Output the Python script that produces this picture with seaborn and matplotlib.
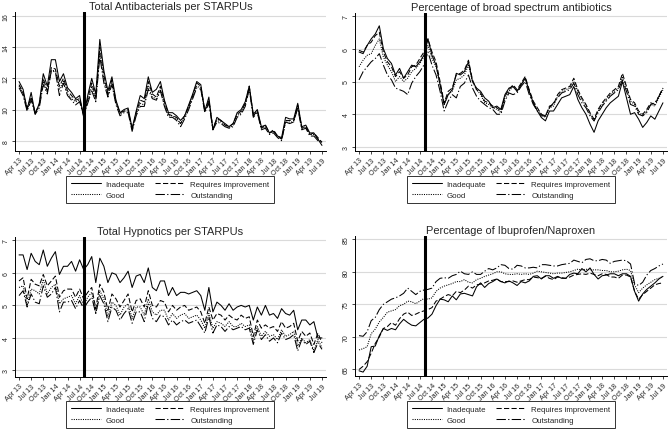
import numpy as np
import pandas as pd
import matplotlib
matplotlib.use("Agg")
import matplotlib.pyplot as plt
import seaborn as sns

# months Apr 2013 .. Jul 2019, indexed 0..75
months = list(range(76))
tick_pos = list(range(0, 76, 3))
tick_labels = ['Apr 13', 'Jul 13', 'Oct 13', 'Jan 14', 'Apr 14', 'Jul 14', 'Oct 14',
               'Jan 15', 'Apr 15', 'Jul 15', 'Oct 15', 'Jan 16', 'Apr 16', 'Jul 16',
               'Oct 16', 'Jan 17', 'Apr 17', 'Jul 17', 'Oct 17', 'Jan 18', 'Apr 18',
               'Jul 18', 'Oct 18', 'Jan 19', 'Apr 19', 'Jul 19']
ratings = ['Inadequate', 'Requires improvement', 'Good', 'Outstanding']
intervention = 16.2

# Total Antibacterials per STARPUs
abx_inad = [11.8, 11.3, 10.0, 11.1, 9.7, 10.4, 12.3, 11.5, 13.2, 13.2, 11.8, 12.3, 11.4, 11.1, 10.7, 10.9,
            9.5, 10.9, 12.0, 11.0, 14.5, 12.5, 11.2, 12.1, 10.6, 9.8, 10.0, 10.1, 8.8, 9.9, 10.9, 10.7,
            12.1, 11.1, 11.3, 11.8, 10.6, 9.8, 9.8, 9.6, 9.3, 9.6, 10.3, 11.0, 11.8, 11.6, 9.9, 10.8,
            8.7, 9.5, 9.3, 9.1, 8.9, 9.1, 9.8, 10.0, 10.5, 11.5, 9.7, 10.0, 8.9, 9.0, 8.5, 8.6,
            8.3, 8.2, 9.5, 9.4, 9.4, 10.4, 8.9, 9.0, 8.5, 8.5, 8.1, 7.7]
abx_ri = [11.6, 11.1, 10.1, 10.8, 9.8, 10.3, 12.0, 11.2, 12.7, 12.6, 11.5, 12.0, 11.2, 10.9, 10.6, 10.7,
          9.6, 10.7, 11.7, 10.8, 14.0, 12.2, 11.0, 11.9, 10.5, 9.8, 9.9, 10.0, 8.7, 9.8, 10.6, 10.5,
          11.8, 11.0, 10.8, 11.5, 10.5, 9.7, 9.6, 9.5, 9.1, 9.6, 10.2, 10.9, 11.7, 11.5, 9.9, 10.6,
          8.8, 9.4, 9.3, 9.0, 8.9, 9.1, 9.7, 9.9, 10.4, 11.5, 9.6, 9.9, 8.8, 9.0, 8.5, 8.7,
          8.3, 8.1, 9.3, 9.3, 9.3, 10.3, 8.8, 8.9, 8.4, 8.5, 8.2, 7.9]
abx_good = [11.5, 11.0, 10.0, 10.7, 9.8, 10.2, 11.8, 11.1, 12.5, 12.5, 11.3, 11.8, 11.0, 10.7, 10.5, 10.6,
            9.7, 10.5, 11.5, 10.6, 13.7, 11.9, 10.9, 11.7, 10.4, 9.7, 9.9, 9.9, 8.7, 9.7, 10.4, 10.3,
            11.5, 10.8, 10.7, 11.3, 10.3, 9.6, 9.6, 9.4, 9.1, 9.5, 10.1, 10.8, 11.5, 11.4, 9.9, 10.5,
            8.8, 9.3, 9.2, 9.0, 8.8, 9.0, 9.6, 9.8, 10.3, 11.4, 9.6, 9.9, 8.8, 8.9, 8.5, 8.6,
            8.3, 8.1, 9.2, 9.2, 9.2, 10.2, 8.8, 8.9, 8.4, 8.4, 8.1, 7.9]
abx_out = [11.4, 10.9, 9.9, 10.6, 9.7, 10.1, 11.6, 11.0, 12.5, 12.4, 10.9, 11.7, 10.9, 10.6, 10.3, 10.5,
           9.6, 10.4, 11.2, 10.5, 13.4, 11.7, 10.8, 11.6, 10.3, 9.6, 9.8, 9.8, 8.6, 9.6, 10.2, 10.2,
           11.3, 10.7, 10.6, 11.2, 10.2, 9.5, 9.5, 9.3, 8.9, 9.4, 10.0, 10.7, 11.4, 11.3, 9.8, 10.4,
           8.7, 9.2, 9.1, 8.9, 8.8, 8.9, 9.5, 9.7, 10.2, 11.3, 9.5, 9.8, 8.7, 8.8, 8.4, 8.5,
           8.2, 8.0, 9.2, 9.1, 9.2, 10.1, 8.7, 8.8, 8.3, 8.3, 8.0, 7.9]

# Percentage of broad spectrum antibiotics
bs_inad = [5.9, 5.85, 6.1, 6.3, 6.45, 6.7, 6.0, 5.7, 5.55, 5.2, 5.4, 5.1, 5.3, 5.5, 5.45, 5.6,
           5.8, 6.3, 5.8, 5.5, 4.9, 4.3, 4.6, 4.75, 5.25, 5.2, 5.3, 5.6, 5.0, 4.8, 4.7, 4.5,
           4.4, 4.2, 4.25, 4.15, 4.6, 4.8, 4.85, 4.7, 4.9, 5.1, 4.7, 4.35, 4.1, 3.9, 3.8, 4.1,
           4.1, 4.3, 4.5, 4.55, 4.6, 4.85, 4.45, 4.2, 4.0, 3.7, 3.45, 3.8, 4.0, 4.2, 4.35, 4.45,
           4.55, 5.0, 4.5, 4.0, 4.05, 3.85, 3.6, 3.75, 3.95, 3.85, 4.1, 4.35]
bs_ri = [5.95, 5.9, 6.1, 6.2, 6.4, 6.5, 5.9, 5.6, 5.45, 5.15, 5.3, 5.1, 5.2, 5.45, 5.5, 5.7,
         5.9, 6.3, 5.9, 5.6, 5.0, 4.35, 4.7, 4.8, 5.2, 5.25, 5.35, 5.65, 5.05, 4.75, 4.65, 4.4,
         4.35, 4.25, 4.2, 4.1, 4.55, 4.75, 4.9, 4.75, 4.95, 5.15, 4.75, 4.4, 4.2, 4.0, 3.95, 4.25,
         4.3, 4.6, 4.75, 4.8, 4.85, 5.1, 4.75, 4.5, 4.3, 4.05, 3.85, 4.15, 4.35, 4.5, 4.65, 4.75,
         4.85, 5.25, 4.85, 4.45, 4.35, 4.1, 4.0, 4.15, 4.35, 4.3, 4.55, 4.8]
bs_good = [5.45, 5.65, 5.8, 5.85, 6.1, 6.3, 5.75, 5.5, 5.3, 5.0, 5.15, 5.0, 5.1, 5.3, 5.4, 5.55,
           5.75, 6.1, 5.7, 5.45, 4.9, 4.3, 4.6, 4.7, 5.05, 5.1, 5.2, 5.5, 5.0, 4.75, 4.6, 4.35,
           4.3, 4.2, 4.15, 4.05, 4.5, 4.7, 4.85, 4.7, 4.9, 5.1, 4.7, 4.35, 4.15, 4.0, 3.9, 4.2,
           4.25, 4.55, 4.7, 4.75, 4.8, 5.0, 4.7, 4.45, 4.25, 4.0, 3.8, 4.1, 4.3, 4.45, 4.6, 4.7,
           4.8, 5.15, 4.8, 4.4, 4.3, 4.05, 3.95, 4.1, 4.3, 4.25, 4.5, 4.75]
bs_out = [5.05, 5.3, 5.45, 5.6, 5.7, 5.85, 5.5, 5.2, 5.05, 4.8, 4.75, 4.7, 4.6, 4.95, 5.15, 5.3,
          5.5, 5.9, 5.5, 5.2, 4.7, 4.1, 4.4, 4.6, 4.5, 4.85, 4.95, 5.2, 4.8, 4.55, 4.4, 4.3,
          4.2, 4.15, 4.0, 4.0, 4.4, 4.65, 4.6, 4.65, 4.85, 5.0, 4.6, 4.3, 4.1, 3.95, 3.95, 4.2,
          4.35, 4.5, 4.65, 4.7, 4.75, 4.95, 4.6, 4.35, 4.2, 3.95, 3.8, 4.05, 4.25, 4.4, 4.55, 4.65,
          4.75, 5.05, 4.7, 4.3, 4.25, 4.0, 3.95, 4.05, 4.3, 4.35, 4.55, 4.8]

# Total Hypnotics per STARPUs
hyp_inad = [6.55, 6.55, 6.1, 6.6, 6.35, 6.25, 6.7, 6.2, 6.45, 6.65, 5.95, 6.2, 6.2, 6.35, 6.05, 6.4,
            6.1, 6.25, 6.5, 5.7, 6.45, 6.2, 5.7, 6.0, 5.95, 5.7, 5.85, 6.05, 5.55, 5.9, 5.95, 5.7,
            6.15, 5.55, 5.45, 5.75, 5.75, 5.3, 5.55, 5.3, 5.4, 5.4, 5.35, 5.4, 5.45, 5.3, 4.85, 5.55,
            4.8, 5.1, 5.0, 4.85, 5.05, 4.85, 4.95, 5.0, 4.95, 5.0, 4.55, 4.95, 4.7, 5.0, 4.7, 4.75,
            4.6, 4.9, 4.75, 4.7, 4.85, 4.25, 4.55, 4.55, 4.4, 4.5, 4.0, 4.0]
hyp_ri = [5.75, 5.85, 5.2, 5.8, 5.65, 5.6, 5.95, 5.6, 5.75, 5.9, 5.25, 5.45, 5.5, 5.5, 5.25, 5.5,
          5.2, 5.4, 5.55, 4.9, 5.65, 5.4, 4.85, 5.35, 5.2, 4.95, 5.15, 5.35, 4.8, 5.15, 5.2, 4.95,
          5.45, 5.0, 4.95, 5.15, 5.1, 4.8, 5.0, 4.85, 4.95, 5.0, 4.85, 4.9, 4.95, 4.8, 4.45, 4.95,
          4.55, 4.75, 4.7, 4.55, 4.7, 4.6, 4.55, 4.7, 4.6, 4.65, 4.05, 4.55, 4.3, 4.4, 4.3, 4.35,
          4.2, 4.5, 4.3, 4.35, 4.45, 3.9, 4.2, 4.05, 4.15, 3.8, 4.15, 3.85]
hyp_good = [5.55, 5.6, 5.0, 5.5, 5.45, 5.35, 5.8, 5.35, 5.55, 5.65, 5.05, 5.2, 5.25, 5.3, 5.05, 5.3,
            5.0, 5.25, 5.4, 4.75, 5.45, 5.2, 4.65, 5.1, 5.0, 4.7, 4.95, 5.05, 4.6, 4.95, 4.95, 4.7,
            5.2, 4.8, 4.7, 4.85, 4.85, 4.55, 4.75, 4.6, 4.7, 4.75, 4.6, 4.65, 4.7, 4.55, 4.3, 4.75,
            4.3, 4.5, 4.45, 4.35, 4.5, 4.35, 4.35, 4.45, 4.35, 4.4, 3.9, 4.35, 4.05, 4.2, 4.05, 4.1,
            3.95, 4.25, 4.05, 4.1, 4.2, 3.75, 4.0, 3.85, 3.95, 3.6, 3.95, 3.7]
hyp_out = [5.3, 5.45, 4.95, 5.35, 5.1, 5.05, 5.6, 5.25, 5.35, 5.55, 4.8, 5.1, 5.1, 5.15, 4.9, 5.15,
           4.9, 5.1, 5.25, 4.75, 5.3, 5.05, 4.5, 4.95, 4.85, 4.55, 4.75, 4.9, 4.45, 4.8, 4.8, 4.5,
           5.05, 4.6, 4.5, 4.7, 4.65, 4.4, 4.55, 4.4, 4.5, 4.55, 4.45, 4.5, 4.55, 4.35, 4.15, 4.65,
           4.15, 4.4, 4.35, 4.2, 4.35, 4.25, 4.3, 4.35, 4.25, 4.3, 3.8, 4.25, 3.95, 4.1, 3.9, 4.0,
           3.85, 4.15, 3.95, 4.0, 4.1, 3.6, 3.95, 3.8, 3.9, 3.55, 3.85, 3.65]

# Percentage of Ibuprofen/Naproxen
ibu_inad = [64.8, 64.6, 65.5, 68.5, 68.6, 70.2, 71.3, 71.0, 71.3, 71.1, 72.0, 72.7, 72.2, 71.8, 71.7, 72.2,
            72.7, 72.9, 73.5, 74.8, 75.8, 75.7, 75.4, 76.3, 75.7, 76.6, 76.7, 76.5, 76.3, 77.7, 78.3, 77.6,
            78.2, 78.5, 78.9, 78.5, 78.3, 78.6, 78.3, 77.9, 78.5, 78.3, 78.6, 79.3, 79.4, 78.9, 79.4, 79.4,
            79.0, 79.3, 79.0, 79.0, 79.6, 79.8, 79.7, 80.5, 80.0, 80.6, 79.6, 78.9, 79.4, 79.5, 79.7, 79.7,
            79.4, 79.7, 79.7, 79.3, 77.0, 75.5, 76.6, 77.3, 77.8, 78.3, 78.9, 79.3]
ibu_ri = [65.0, 65.5, 66.2, 67.5, 69.0, 70.0, 71.3, 71.6, 72.2, 71.8, 72.8, 73.5, 73.8, 73.3, 73.5, 73.8,
          74.0, 74.2, 74.5, 75.5, 75.8, 76.2, 76.5, 76.3, 77.0, 76.8, 77.2, 77.8, 77.5, 78.0, 78.1, 78.3,
          78.6, 78.7, 78.9, 78.5, 78.5, 78.5, 78.6, 78.4, 78.6, 78.8, 78.8, 79.2, 79.1, 79.0, 79.3, 79.0,
          78.8, 79.2, 79.1, 79.0, 79.2, 79.5, 79.6, 79.7, 79.6, 79.8, 79.6, 79.4, 79.7, 79.6, 79.2, 79.2,
          79.0, 79.5, 79.5, 79.2, 77.0, 75.8, 76.5, 77.0, 77.5, 78.0, 78.2, 78.3]
ibu_good = [68.0, 68.2, 68.5, 70.5, 71.2, 72.3, 73.0, 73.8, 74.0, 74.2, 74.8, 75.0, 75.5, 75.4, 75.1, 75.5,
            75.9, 75.8, 76.0, 77.0, 77.5, 77.8, 78.0, 78.2, 78.5, 78.5, 78.8, 78.4, 78.3, 78.8, 79.0, 79.3,
            79.5, 79.7, 80.0, 80.0, 79.7, 79.6, 79.6, 79.7, 79.6, 79.7, 79.6, 79.8, 80.1, 80.0, 79.9, 79.8,
            79.7, 79.8, 79.8, 79.9, 80.0, 80.2, 80.4, 80.3, 80.4, 80.3, 80.3, 80.3, 80.2, 80.2, 80.0, 80.0,
            80.1, 80.3, 80.4, 80.2, 78.0, 76.8, 77.5, 78.0, 78.4, 78.8, 79.0, 79.3]
ibu_out = [70.2, 70.1, 70.8, 72.5, 73.0, 74.2, 75.0, 75.4, 75.8, 76.0, 76.3, 76.7, 77.5, 77.0, 76.5, 77.0,
           77.2, 77.3, 77.5, 78.5, 79.0, 79.1, 79.0, 79.4, 79.6, 80.1, 79.7, 79.6, 80.0, 79.6, 79.6, 80.1,
           80.5, 80.3, 80.6, 81.1, 81.0, 80.5, 80.4, 81.0, 80.9, 80.6, 80.6, 80.7, 80.6, 81.1, 81.1, 81.0,
           80.9, 80.9, 81.1, 81.2, 81.3, 81.8, 81.6, 81.4, 81.9, 82.0, 81.7, 81.7, 81.9, 81.8, 81.3, 81.6,
           81.7, 81.8, 81.7, 81.2, 78.2, 77.9, 78.4, 79.5, 80.2, 80.5, 80.9, 81.2]

panels = [
    ('Total Antibacterials per STARPUs', [abx_inad, abx_ri, abx_good, abx_out], (7.34, 16.26), [8, 10, 12, 14, 16]),
    ('Percentage of broad spectrum antibiotics', [bs_inad, bs_ri, bs_good, bs_out], (2.88, 7.09), [3, 4, 5, 6, 7]),
    ('Total Hypnotics per STARPUs', [hyp_inad, hyp_ri, hyp_good, hyp_out], (2.8, 7.1), [3, 4, 5, 6, 7]),
    ('Percentage of Ibuprofen/Naproxen', [ibu_inad, ibu_ri, ibu_good, ibu_out], (64.0, 85.5), [65, 70, 75, 80, 85]),
]

styles = {
    'Inadequate': '-',
    'Requires improvement': (0, (5, 2.2)),
    'Good': (0, (1, 1.2)),
    'Outstanding': (0, (9, 2.2, 1.2, 2.2)),
}

sns.set_theme(style='ticks')
plt.rcParams['font.family'] = ['Liberation Sans', 'DejaVu Sans']

fig = plt.figure(figsize=(6.69, 4.31), dpi=100)
W, H = 669, 431
# axes boxes in pixels: left, top, right, bottom
boxes = [(15, 13, 326, 152), (355, 14, 667, 152), (15, 238, 326, 378), (355, 237, 667, 377)]
legend_centers = [(170, 190.5), (511, 190.5), (170, 415.5), (511, 415.5)]

for (title, series, ylim, yticks), (l, t, r, b), (lx, ly) in zip(panels, boxes, legend_centers):
    ax = fig.add_axes([l / W, 1 - b / H, (r - l) / W, (b - t) / H])
    for rating, vals in zip(ratings, series):
        df = pd.DataFrame({'month': months, 'value': vals})
        sns.lineplot(data=df, x='month', y='value', ax=ax, color='black', lw=0.75,
                     linestyle=styles[rating], label=rating)
    ax.axvline(intervention, color='black', lw=2.2)
    ax.set_xlim(-1, 76)
    ax.set_ylim(*ylim)
    ax.set_yticks(yticks)
    ax.set_xticks(tick_pos)
    ax.set_xticklabels(tick_labels, rotation=45, ha='right', rotation_mode='anchor')
    ax.tick_params(axis='x', labelsize=5.1, length=2.5, width=0.6, pad=1.5)
    ax.tick_params(axis='y', labelsize=5.0, length=2.5, width=0.6, pad=1.5, labelrotation=90)
    plt.setp(ax.get_yticklabels(), va='center')
    ax.yaxis.grid(True, color='#dadada', lw=0.8)
    ax.set_axisbelow(True)
    ax.set_xlabel('')
    ax.set_ylabel('')
    ax.set_title(title, fontsize=7.9, pad=2)
    sns.despine(ax=ax)
    for s in ['left', 'bottom']:
        ax.spines[s].set_linewidth(0.7)
        ax.spines[s].set_color('black')
    h, lab = ax.get_legend_handles_labels()
    order = [0, 2, 1, 3]
    leg = ax.legend([h[i] for i in order], [lab[i] for i in order], ncol=2,
                    loc='center', bbox_to_anchor=(lx / W, 1 - ly / H), bbox_transform=fig.transFigure,
                    fontsize=5.7, frameon=True, fancybox=False, edgecolor='black',
                    handlelength=3.8, handletextpad=0.63, columnspacing=1.27,
                    labelspacing=0.4, borderpad=0.6)
    leg.get_frame().set_linewidth(0.7)

fig.savefig('out.png', dpi=100, facecolor='white')
